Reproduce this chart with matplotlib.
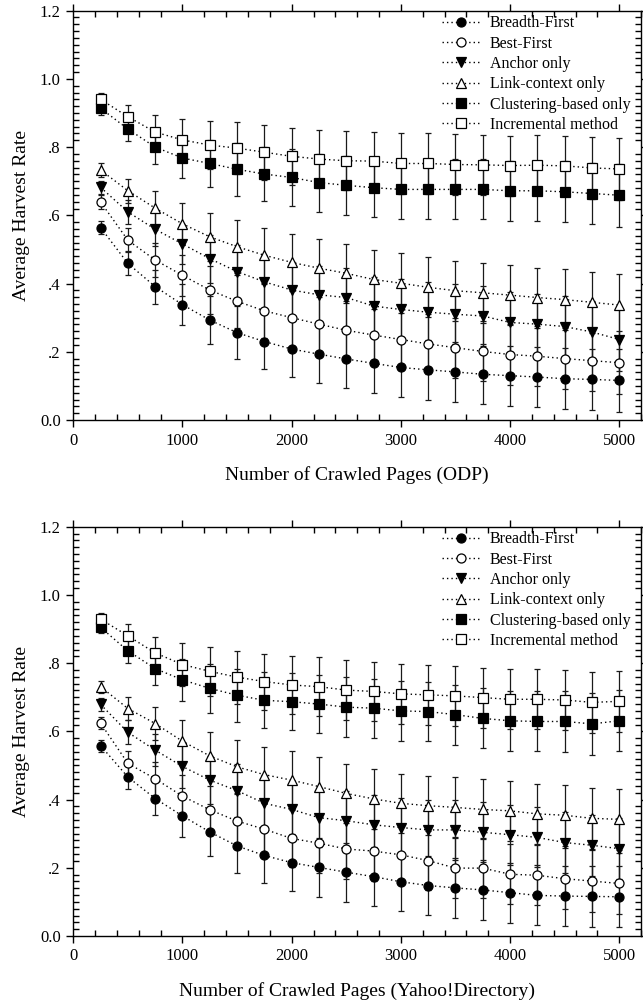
import matplotlib
matplotlib.use('Agg')
import matplotlib.pyplot as plt
from matplotlib.ticker import MultipleLocator, FixedLocator

plt.rcParams['font.family'] = ['Liberation Serif', 'DejaVu Serif']

pages = [250, 500, 750, 1000, 1250, 1500, 1750, 2000, 2250, 2500,
         2750, 3000, 3250, 3500, 3750, 4000, 4250, 4500, 4750, 5000]

names = ['Breadth-First', 'Best-First', 'Anchor only', 'Link-context only',
         'Clustering-based only', 'Incremental method']

yticks = [0.0, 0.2, 0.4, 0.6, 0.8, 1.0, 1.2]
ytick_labels = ['0.0', '.2', '.4', '.6', '.8', '1.0', '1.2']
xticks = [0, 1000, 2000, 3000, 4000, 5000]

# ODP panel
odp_breadth = [0.564, 0.459, 0.391, 0.338, 0.293, 0.256, 0.230, 0.208, 0.193, 0.179,
               0.166, 0.154, 0.147, 0.141, 0.134, 0.130, 0.126, 0.121, 0.119, 0.116]
odp_best = [0.639, 0.527, 0.469, 0.424, 0.381, 0.348, 0.320, 0.300, 0.281, 0.263,
            0.249, 0.236, 0.223, 0.212, 0.201, 0.192, 0.187, 0.180, 0.174, 0.168]
odp_anchor = [0.682, 0.610, 0.559, 0.516, 0.473, 0.435, 0.405, 0.381, 0.367, 0.359,
              0.334, 0.324, 0.316, 0.310, 0.305, 0.286, 0.281, 0.274, 0.258, 0.236]
odp_link = [0.733, 0.672, 0.621, 0.575, 0.537, 0.508, 0.483, 0.462, 0.445, 0.430,
            0.412, 0.401, 0.389, 0.379, 0.373, 0.366, 0.359, 0.353, 0.345, 0.337]
odp_cluster = [0.914, 0.853, 0.800, 0.768, 0.752, 0.735, 0.721, 0.711, 0.696, 0.688,
               0.681, 0.676, 0.676, 0.676, 0.676, 0.672, 0.672, 0.669, 0.664, 0.659]
odp_incr = [0.940, 0.889, 0.844, 0.821, 0.806, 0.797, 0.785, 0.773, 0.765, 0.760,
            0.759, 0.752, 0.752, 0.749, 0.748, 0.746, 0.747, 0.745, 0.739, 0.736]
odp_err = [0.020, 0.035, 0.050, 0.060, 0.070, 0.077, 0.080, 0.083, 0.085, 0.086,
           0.086, 0.088, 0.088, 0.088, 0.088, 0.088, 0.088, 0.089, 0.090, 0.092]

# Yahoo!Directory panel
yah_breadth = [0.558, 0.466, 0.403, 0.352, 0.305, 0.264, 0.236, 0.215, 0.201, 0.187,
               0.174, 0.159, 0.148, 0.141, 0.135, 0.127, 0.119, 0.117, 0.116, 0.115]
yah_best = [0.624, 0.506, 0.461, 0.410, 0.370, 0.337, 0.313, 0.286, 0.272, 0.255,
            0.249, 0.238, 0.221, 0.199, 0.199, 0.181, 0.178, 0.168, 0.161, 0.154]
yah_anchor = [0.679, 0.597, 0.545, 0.497, 0.457, 0.426, 0.389, 0.371, 0.347, 0.338,
              0.326, 0.318, 0.311, 0.311, 0.304, 0.297, 0.289, 0.274, 0.266, 0.256]
yah_link = [0.731, 0.667, 0.623, 0.571, 0.528, 0.496, 0.473, 0.457, 0.438, 0.418,
            0.402, 0.389, 0.382, 0.377, 0.371, 0.367, 0.358, 0.354, 0.345, 0.342]
yah_cluster = [0.905, 0.836, 0.784, 0.751, 0.726, 0.706, 0.691, 0.687, 0.680, 0.671,
               0.668, 0.660, 0.658, 0.649, 0.638, 0.631, 0.629, 0.629, 0.622, 0.631]
yah_incr = [0.929, 0.880, 0.830, 0.796, 0.776, 0.759, 0.746, 0.736, 0.731, 0.721,
            0.717, 0.710, 0.707, 0.704, 0.699, 0.694, 0.694, 0.692, 0.685, 0.688]
yah_err = [0.018, 0.035, 0.048, 0.062, 0.071, 0.078, 0.082, 0.084, 0.086, 0.087,
           0.087, 0.087, 0.087, 0.088, 0.088, 0.088, 0.088, 0.089, 0.090, 0.090]

styles = [('o', 'k'), ('o', 'w'), ('v', 'k'), ('^', 'w'), ('s', 'k'), ('s', 'w')]

fig = plt.figure(figsize=(6.43, 10.06), dpi=100)
ax1 = fig.add_axes([0.114, 0.5825, 0.883, 0.4069])
ax2 = fig.add_axes([0.114, 0.0696, 0.883, 0.4068])


def draw(ax, series, err, xlabel):
    handles = []
    for ys, (m, fc), name in zip(series, styles, names):
        ax.errorbar(pages, ys, yerr=err, fmt='none', ecolor='0.1',
                    elinewidth=0.9, capsize=2.4, capthick=0.9, zorder=2)
        h, = ax.plot(pages, ys, linestyle=(0, (1, 2.2)), color='k', lw=1.0,
                     marker=m, markersize=6.5, markerfacecolor=fc,
                     markeredgecolor='k', markeredgewidth=0.9, label=name, zorder=3)
        handles.append(h)
    ax.set_xlim(0, 5200)
    ax.set_ylim(0, 1.2)
    ax.xaxis.set_major_locator(FixedLocator(xticks))
    ax.xaxis.set_minor_locator(MultipleLocator(200))
    ax.yaxis.set_major_locator(FixedLocator(yticks))
    ax.yaxis.set_minor_locator(MultipleLocator(0.02))
    ax.set_yticklabels(ytick_labels)
    ax.tick_params(which='major', direction='out', length=5, width=1,
                   top=True, right=True, labelsize=12, pad=4)
    ax.tick_params(which='minor', direction='in', length=4, width=1,
                   top=True, right=True)
    for s in ax.spines.values():
        s.set_linewidth(1.0)
    ax.set_ylabel('Average Harvest Rate', fontsize=14, labelpad=7)
    ax.set_xlabel(xlabel, fontsize=14, labelpad=13)
    ax.legend(handles=handles, loc='upper right', bbox_to_anchor=(0.998, 1.012),
              frameon=False, fontsize=11.5, handlelength=2.4, handletextpad=0.6,
              labelspacing=0.27, borderaxespad=0.2)


draw(ax1, [odp_breadth, odp_best, odp_anchor, odp_link, odp_cluster, odp_incr],
     odp_err, 'Number of Crawled Pages (ODP)')
draw(ax2, [yah_breadth, yah_best, yah_anchor, yah_link, yah_cluster, yah_incr],
     yah_err, 'Number of Crawled Pages (Yahoo!Directory)')

fig.savefig('out.png', dpi=100)
